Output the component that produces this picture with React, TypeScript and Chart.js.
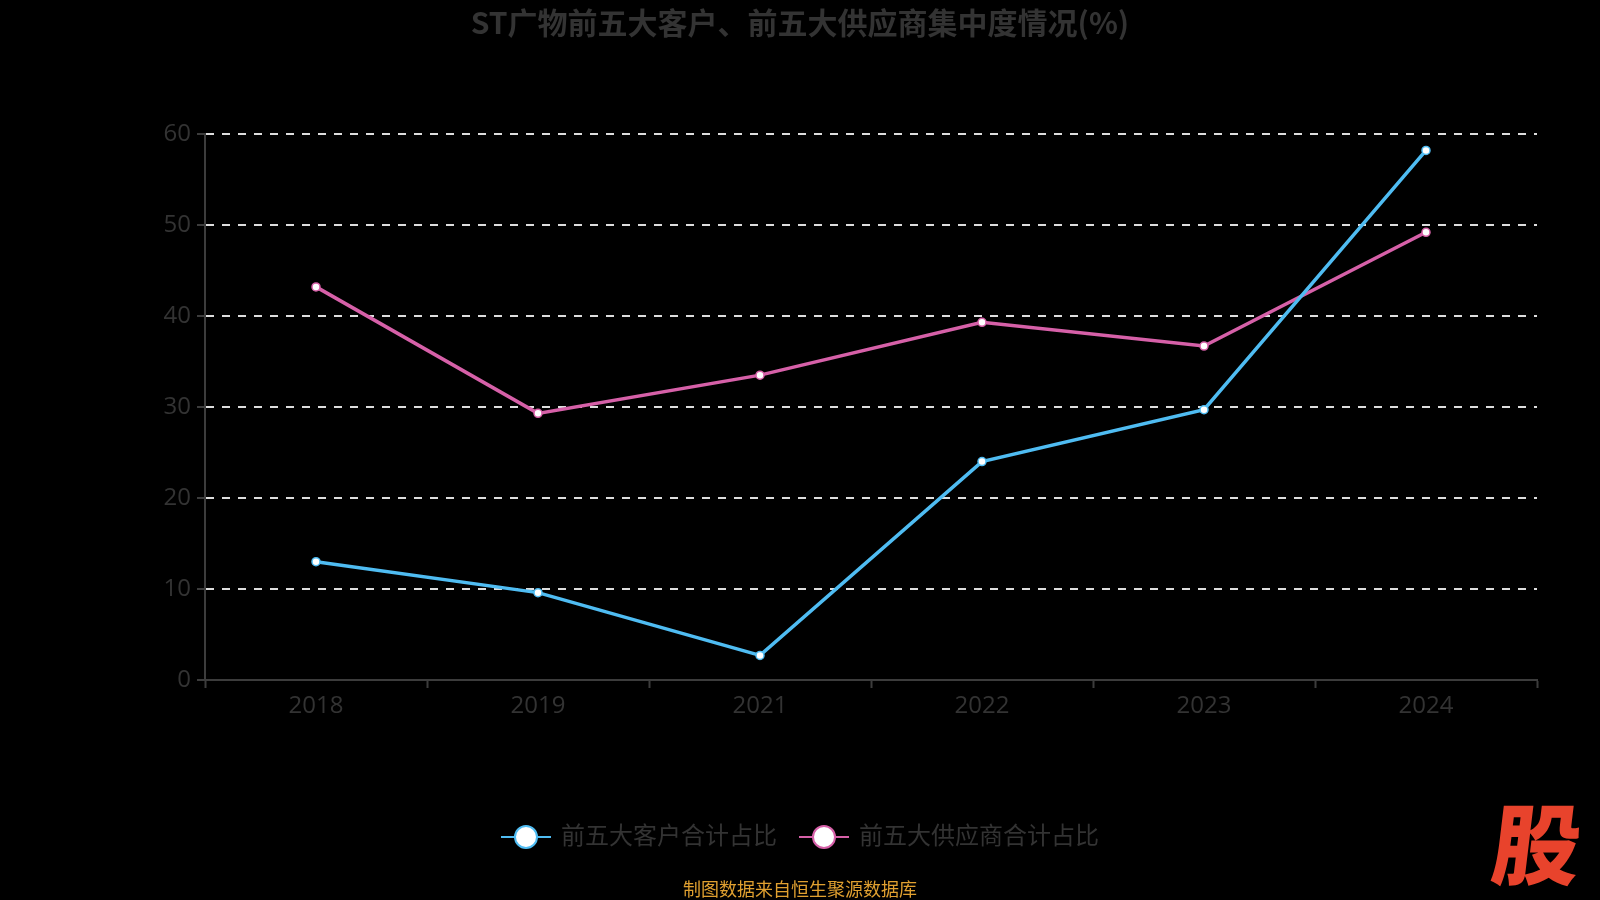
import React, { useEffect, useRef } from "react";
import { Chart, registerables } from "chart.js";

Chart.register(...registerables);

const TITLE = "ST广物前五大客户、前五大供应商集中度情况(%)";
const SOURCE = "制图数据来自恒生聚源数据库";
const categories = ["2018", "2019", "2021", "2022", "2023", "2024"];
const seriesNames = ["前五大客户合计占比", "前五大供应商合计占比"];
const customers = [13.0, 9.6, 2.7, 24.0, 29.7, 58.2];
const suppliers = [43.2, 29.3, 33.5, 39.3, 36.7, 49.2];
const yTicks = [0, 10, 20, 30, 40, 50, 60];

const BLUE = "#4fbcf2";
const PINK = "#d660a8";
const FONT = '"Open Sans", "Noto Sans CJK SC", sans-serif';

export default function App() {
  const ref = useRef<HTMLCanvasElement | null>(null);

  useEffect(() => {
    document.body.style.margin = "0";
    document.body.style.background = "#000";
    const canvas = ref.current!;
    const overlay = {
      id: "overlay",
      beforeDraw(chart: any) {
        const ctx = chart.ctx;
        ctx.save();
        ctx.fillStyle = "#000";
        ctx.fillRect(0, 0, chart.width, chart.height);
        ctx.restore();
      },
      afterDraw(chart: any) {
        const ctx = chart.ctx as CanvasRenderingContext2D;
        ctx.save();
        // title
        ctx.fillStyle = "#333333";
        ctx.font = `bold 30px "Noto Sans CJK SC", "Open Sans", sans-serif`;
        ctx.textAlign = "center";
        ctx.textBaseline = "middle";
        ctx.fillText(TITLE, 800, 23);

        // legend
        const colors = [BLUE, PINK];
        const legendY = 837;
        ctx.font = `24px ${FONT}`;
        const w0 = ctx.measureText(seriesNames[0]).width;
        const w1 = ctx.measureText(seriesNames[1]).width;
        const itemW = (w: number) => 50 + 10 + w;
        const gap = 22;
        const total = itemW(w0) + gap + itemW(w1);
        let x = 800 - total / 2;
        [w0, w1].forEach((w, i) => {
          ctx.strokeStyle = colors[i];
          ctx.lineWidth = 2;
          ctx.beginPath();
          ctx.moveTo(x, legendY);
          ctx.lineTo(x + 50, legendY);
          ctx.stroke();
          ctx.beginPath();
          ctx.arc(x + 25, legendY, 11, 0, Math.PI * 2);
          ctx.fillStyle = "#fff";
          ctx.fill();
          ctx.lineWidth = 2;
          ctx.stroke();
          ctx.fillStyle = "#333333";
          ctx.textAlign = "left";
          ctx.textBaseline = "middle";
          ctx.fillText(seriesNames[i], x + 60, legendY);
          x += itemW(w) + gap;
        });

        // source
        ctx.font = `18px "Noto Sans CJK SC", sans-serif`;
        ctx.fillStyle = "#e0a030";
        ctx.textAlign = "center";
        ctx.textBaseline = "middle";
        ctx.fillText(SOURCE, 800, 889);

        // logo
        ctx.font = `900 88px "Noto Sans CJK SC", sans-serif`;
        ctx.fillStyle = "#e8432c";
        ctx.textAlign = "center";
        ctx.textBaseline = "alphabetic";
        ctx.translate(1533, 878);
        ctx.transform(1, 0, -0.12, 1, 0, 0);
        ctx.fillText("股", 0, 0);
        ctx.restore();
      },
    };

    const chart = new Chart(canvas, {
      type: "line",
      data: {
        labels: categories,
        datasets: [
          {
            label: seriesNames[0],
            data: customers,
            borderColor: BLUE,
            backgroundColor: "#fff",
            borderWidth: 3.5,
            pointRadius: 4,
            pointBorderWidth: 1.5,
            pointBackgroundColor: "#fff",
            pointBorderColor: BLUE,
            tension: 0,
          },
          {
            label: seriesNames[1],
            data: suppliers,
            borderColor: PINK,
            backgroundColor: "#fff",
            borderWidth: 3.5,
            pointRadius: 4,
            pointBorderWidth: 1.5,
            pointBackgroundColor: "#fff",
            pointBorderColor: PINK,
            tension: 0,
          },
        ],
      },
      options: {
        animation: false,
        responsive: false,
        devicePixelRatio: 1,
        layout: { padding: { top: 134, right: 63, bottom: 0, left: 0 } },
        plugins: {
          legend: { display: false },
          title: { display: false },
          tooltip: { enabled: false },
        },
        scales: {
          x: {
            type: "category",
            offset: true,
            afterFit: (s: any) => {
              s.height = 220;
            },
            grid: {
              offset: true,
              drawOnChartArea: false,
              drawTicks: true,
              tickLength: 8,
              tickColor: "#3c3c3c",
              tickWidth: 2,
            },
            border: { color: "#3c3c3c", width: 2 },
            ticks: {
              color: "#333333",
              font: { family: FONT, size: 24 },
              padding: 4,
              maxRotation: 0,
            },
          },
          y: {
            min: 0,
            max: 60,
            afterFit: (s: any) => {
              s.width = 205;
            },
            afterBuildTicks: (s: any) => {
              s.ticks = yTicks.map((v) => ({ value: v }));
            },
            grid: {
              color: (c: any) => (c.tick && c.tick.value === 0 ? "rgba(0,0,0,0)" : "#dddddd"),
              lineWidth: 2,
              drawTicks: true,
              tickLength: 8,
              tickColor: "#3c3c3c",
              tickWidth: 2,
              tickBorderDash: [],
            },
            border: { color: "#3c3c3c", width: 2, dash: [8, 8] },
            ticks: {
              color: "#333333",
              font: { family: FONT, size: 24 },
              padding: 6,
            },
          },
        },
      },
      plugins: [overlay],
    } as any);
    return () => chart.destroy();
  }, []);

  return (
    <canvas
      ref={ref}
      width={1600}
      height={900}
      style={{ position: "absolute", left: 0, top: 0, width: 1600, height: 900 }}
    />
  );
}
